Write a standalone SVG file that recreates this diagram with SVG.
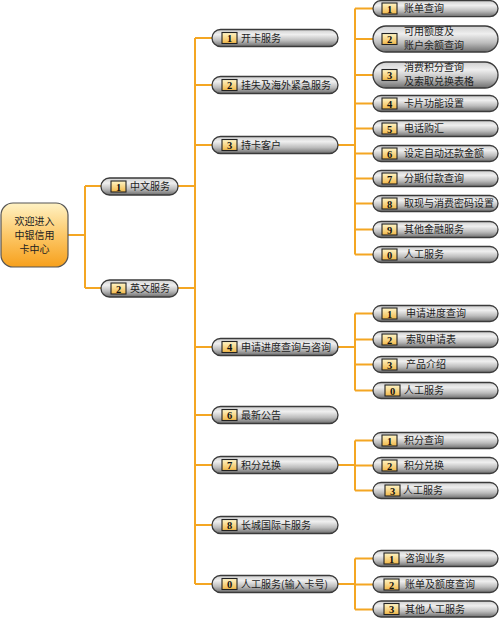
<svg xmlns="http://www.w3.org/2000/svg" width="500" height="618" viewBox="0 0 500 618">
<defs>
<linearGradient id="pg" x1="0" y1="0" x2="0" y2="1">
<stop offset="0" stop-color="#cfcfcf"/>
<stop offset="0.3" stop-color="#efefef"/>
<stop offset="0.65" stop-color="#bcbcbc"/>
<stop offset="1" stop-color="#6e6e6e"/>
</linearGradient>
<linearGradient id="bg" x1="0" y1="0" x2="0" y2="1">
<stop offset="0" stop-color="#fff6c8"/>
<stop offset="1" stop-color="#f2b848"/>
</linearGradient>
<linearGradient id="rg" x1="0" y1="0" x2="0" y2="1">
<stop offset="0" stop-color="#fff2c4"/>
<stop offset="0.5" stop-color="#fcc868"/>
<stop offset="1" stop-color="#f7a01c"/>
</linearGradient>
<style>
.p{fill:url(#pg);stroke:#3a3a3a;stroke-width:1.3}
.b{fill:url(#bg);stroke:#222;stroke-width:1.1}
.n{font-family:"Liberation Serif",serif;font-weight:bold;font-size:10.5px;fill:#111;text-anchor:middle}
.t{font-family:"Noto Sans CJK SC","Liberation Serif",serif;font-size:10px;fill:#222}
.c{fill:none;stroke:#f4a623;stroke-width:2}
</style>
</defs>
<g id="connectors">
<path class="c" d="M68 235H85M85 186V288M85 186H101M85 288H101"/>
<path class="c" d="M178 186H195M178 288H195M195 38V584M195 38H212M195 85H212M195 145H212M195 347H212M195 415H212M195 465H212M195 525H212M195 584H212"/>
<path class="c" d="M338 145H355M355 8.5V254.5M355 8.5H373M355 39H373M355 75H373M355 103.5H373M355 128.5H373M355 153.5H373M355 178.5H373M355 203.5H373M355 229.5H373M355 254.5H373"/>
<path class="c" d="M338 347H355M355 313.5V390.5M355 313.5H373M355 339.5H373M355 364.5H373M355 390.5H373"/>
<path class="c" d="M338 465H355M355 440.5V490.5M355 440.5H373M355 465.5H373M355 490.5H373"/>
<path class="c" d="M338 584H355M355 558.5V609.5M355 558.5H373M355 584.5H373M355 609.5H373"/>
</g>
<g id="root">
<rect x="1" y="203" width="67" height="64" rx="12" fill="url(#rg)" stroke="#555" stroke-width="1.2"/>
<text class="t" x="34.5" y="225" text-anchor="middle">欢迎进入</text>
<text class="t" x="34.5" y="239" text-anchor="middle">中银信用</text>
<text class="t" x="34.5" y="253" text-anchor="middle">卡中心</text>
</g>
<g id="l1-1"><rect class="p" x="101" y="178" width="77" height="17" rx="8.5"/><rect class="b" x="111" y="181" width="15" height="11"/><text class="n" x="118.5" y="190.5">1</text><text class="t" x="130" y="190">中文服务</text></g>
<g id="l1-2"><rect class="p" x="101" y="280" width="77" height="17" rx="8.5"/><rect class="b" x="111" y="283" width="15" height="11"/><text class="n" x="118.5" y="292.5">2</text><text class="t" x="130" y="292">英文服务</text></g>

<g id="l2-1"><rect class="p" x="212" y="29.5" width="126" height="17" rx="8.5"/><rect class="b" x="222" y="32.5" width="15" height="11"/><text class="n" x="229.5" y="42">1</text><text class="t" x="241" y="41.5">开卡服务</text></g>
<g id="l2-2"><rect class="p" x="212" y="76.5" width="126" height="17" rx="8.5"/><rect class="b" x="222" y="79.5" width="15" height="11"/><text class="n" x="229.5" y="89">2</text><text class="t" x="241" y="88.5">挂失及海外紧急服务</text></g>
<g id="l2-3"><rect class="p" x="212" y="136.5" width="126" height="17" rx="8.5"/><rect class="b" x="222" y="139.5" width="15" height="11"/><text class="n" x="229.5" y="149">3</text><text class="t" x="241" y="148.5">持卡客户</text></g>
<g id="l2-4"><rect class="p" x="212" y="338.5" width="126" height="17" rx="8.5"/><rect class="b" x="222" y="341.5" width="15" height="11"/><text class="n" x="229.5" y="351">4</text><text class="t" x="241" y="350.5">申请进度查询与咨询</text></g>
<g id="l2-6"><rect class="p" x="212" y="406.5" width="126" height="17" rx="8.5"/><rect class="b" x="222" y="409.5" width="15" height="11"/><text class="n" x="229.5" y="419">6</text><text class="t" x="241" y="418.5">最新公告</text></g>
<g id="l2-7"><rect class="p" x="212" y="456.5" width="126" height="17" rx="8.5"/><rect class="b" x="222" y="459.5" width="15" height="11"/><text class="n" x="229.5" y="469">7</text><text class="t" x="241" y="468.5">积分兑换</text></g>
<g id="l2-8"><rect class="p" x="212" y="516.5" width="126" height="17" rx="8.5"/><rect class="b" x="222" y="519.5" width="15" height="11"/><text class="n" x="229.5" y="529">8</text><text class="t" x="241" y="528.5">长城国际卡服务</text></g>
<g id="l2-0"><rect class="p" x="212" y="575.5" width="126" height="17" rx="8.5"/><rect class="b" x="222" y="578.5" width="15" height="11"/><text class="n" x="229.5" y="588">0</text><text class="t" x="241" y="587.5">人工服务(输入卡号)</text></g>

<g id="l3-3-1"><rect class="p" x="373" y="0.6" width="125" height="16" rx="8"/><rect class="b" x="382" y="3" width="15" height="11"/><text class="n" x="389.5" y="12.5">1</text><text class="t" x="404" y="12.2">账单查询</text></g>
<g id="l3-3-2"><rect class="p" x="373" y="26" width="125" height="26" rx="13"/><rect class="b" x="382" y="33.5" width="15" height="11"/><text class="n" x="389.5" y="43">2</text><text class="t" x="404" y="35">可用额度及</text><text class="t" x="404" y="49">账户余额查询</text></g>
<g id="l3-3-3"><rect class="p" x="373" y="62" width="125" height="26" rx="13"/><rect class="b" x="382" y="69.5" width="15" height="11"/><text class="n" x="389.5" y="79">3</text><text class="t" x="404" y="71">消费积分查询</text><text class="t" x="404" y="85">及索取兑换表格</text></g>
<g id="l3-3-4"><rect class="p" x="373" y="95.5" width="125" height="16" rx="8"/><rect class="b" x="382" y="98" width="15" height="11"/><text class="n" x="389.5" y="107.5">4</text><text class="t" x="404" y="107.2">卡片功能设置</text></g>
<g id="l3-3-5"><rect class="p" x="373" y="120.5" width="125" height="16" rx="8"/><rect class="b" x="382" y="123" width="15" height="11"/><text class="n" x="389.5" y="132.5">5</text><text class="t" x="404" y="132.2">电话购汇</text></g>
<g id="l3-3-6"><rect class="p" x="373" y="145.5" width="125" height="16" rx="8"/><rect class="b" x="382" y="148" width="15" height="11"/><text class="n" x="389.5" y="157.5">6</text><text class="t" x="404" y="157.2">设定自动还款金额</text></g>
<g id="l3-3-7"><rect class="p" x="373" y="170.5" width="125" height="16" rx="8"/><rect class="b" x="382" y="173" width="15" height="11"/><text class="n" x="389.5" y="182.5">7</text><text class="t" x="404" y="182.2">分期付款查询</text></g>
<g id="l3-3-8"><rect class="p" x="373" y="195.5" width="125" height="16" rx="8"/><rect class="b" x="382" y="198" width="15" height="11"/><text class="n" x="389.5" y="207.5">8</text><text class="t" x="404" y="207.2">取现与消费密码设置</text></g>
<g id="l3-3-9"><rect class="p" x="373" y="221.5" width="125" height="16" rx="8"/><rect class="b" x="382" y="224" width="15" height="11"/><text class="n" x="389.5" y="233.5">9</text><text class="t" x="404" y="233.2">其他金融服务</text></g>
<g id="l3-3-0"><rect class="p" x="373" y="246.5" width="125" height="16" rx="8"/><rect class="b" x="382" y="249" width="15" height="11"/><text class="n" x="389.5" y="258.5">0</text><text class="t" x="404" y="258.2">人工服务</text></g>

<g id="l3-4-1"><rect class="p" x="373" y="305.5" width="125" height="16" rx="8"/><rect class="b" x="382" y="308" width="15" height="11"/><text class="n" x="389.5" y="317.5">1</text><text class="t" x="406" y="317.2">申请进度查询</text></g>
<g id="l3-4-2"><rect class="p" x="373" y="331.5" width="125" height="16" rx="8"/><rect class="b" x="382" y="334" width="15" height="11"/><text class="n" x="389.5" y="343.5">2</text><text class="t" x="406" y="343.2">索取申请表</text></g>
<g id="l3-4-3"><rect class="p" x="373" y="356.5" width="125" height="16" rx="8"/><rect class="b" x="382" y="359" width="15" height="11"/><text class="n" x="389.5" y="368.5">3</text><text class="t" x="406" y="368.2">产品介绍</text></g>
<g id="l3-4-0"><rect class="p" x="373" y="382.5" width="125" height="16" rx="8"/><rect class="b" x="385" y="385" width="15" height="11"/><text class="n" x="392.5" y="394.5">0</text><text class="t" x="404" y="394.2">人工服务</text></g>

<g id="l3-7-1"><rect class="p" x="373" y="432.5" width="125" height="16" rx="8"/><rect class="b" x="382" y="435" width="15" height="11"/><text class="n" x="389.5" y="444.5">1</text><text class="t" x="404" y="444.2">积分查询</text></g>
<g id="l3-7-2"><rect class="p" x="373" y="457.5" width="125" height="16" rx="8"/><rect class="b" x="382" y="460" width="15" height="11"/><text class="n" x="389.5" y="469.5">2</text><text class="t" x="404" y="469.2">积分兑换</text></g>
<g id="l3-7-3"><rect class="p" x="373" y="482.5" width="125" height="16" rx="8"/><rect class="b" x="385" y="485" width="15" height="11"/><text class="n" x="392.5" y="494.5">3</text><text class="t" x="403" y="494.2">人工服务</text></g>

<g id="l3-0-1"><rect class="p" x="373" y="550.5" width="125" height="16" rx="8"/><rect class="b" x="384" y="553" width="15" height="11"/><text class="n" x="391.5" y="562.5">1</text><text class="t" x="405" y="562.2">咨询业务</text></g>
<g id="l3-0-2"><rect class="p" x="373" y="576.5" width="125" height="16" rx="8"/><rect class="b" x="384" y="579" width="15" height="11"/><text class="n" x="391.5" y="588.5">2</text><text class="t" x="405" y="588.2">账单及额度查询</text></g>
<g id="l3-0-3"><rect class="p" x="373" y="601" width="125" height="16" rx="8"/><rect class="b" x="384" y="603.5" width="15" height="11"/><text class="n" x="391.5" y="613">3</text><text class="t" x="405" y="612.7">其他人工服务</text></g>
</svg>
